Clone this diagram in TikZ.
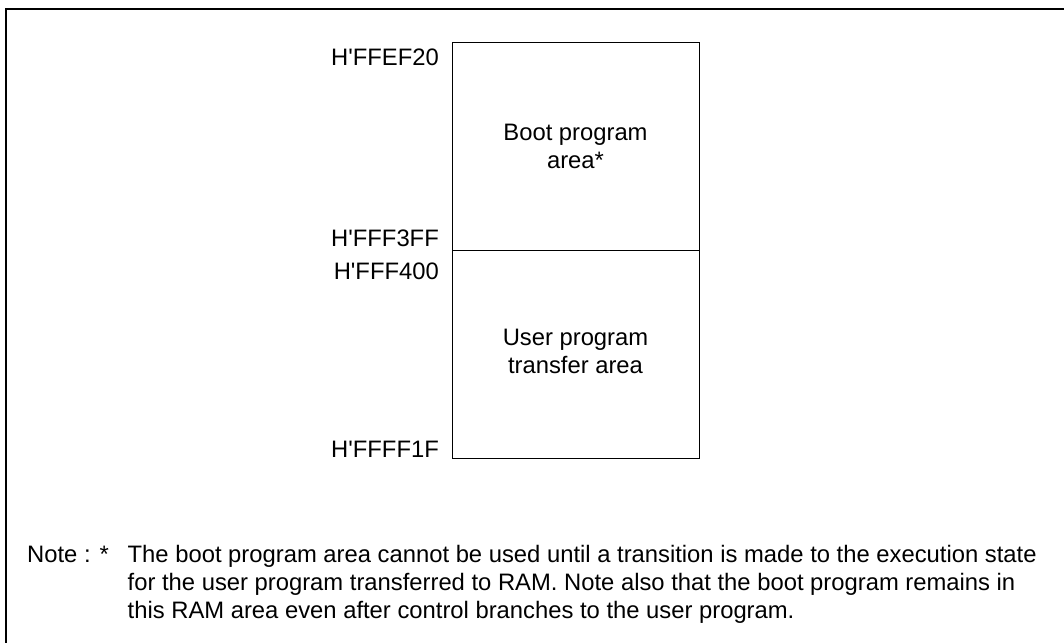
\documentclass[tikz,border=0pt]{standalone}
\usepackage{fontspec}
\setmainfont{Liberation Sans}
\begin{document}
\begin{tikzpicture}[x=1pt,y=-1pt,
  txt/.style={inner sep=0pt,font=\fontsize{23.8}{28}\selectfont},
  area/.style={draw=black,line width=1pt,inner sep=0pt,anchor=north west},
  frameline/.style={draw=black,line width=2.2pt}]
\useasboundingbox (0,0) rectangle (1064,642);
% outer frame (right and bottom edges lie outside the picture)
\coordinate (fbl) at (6,700);
\coordinate (ftl) at (6,9);
\coordinate (ftr) at (1120,9);
\draw[frameline] (fbl) -- (ftl) -- (ftr);
% memory map
\node[area,minimum width=247pt,minimum height=208pt] (boot) at (452,42) {};
\node[area,minimum width=247pt,minimum height=208pt] (user) at (452,250) {};
\node[txt,anchor=base] (b1) at (575.5,140) {Boot program};
\node[txt,anchor=base] (b2) at (575.5,168) {area*};
\node[txt,anchor=base] (u1) at (575.5,345) {User program};
\node[txt,anchor=base] (u2) at (575.5,373) {transfer area};
% addresses
\node[txt,anchor=base east] (a1) at (439,65) {H\textquotesingle FFEF20};
\node[txt,anchor=base east] (a2) at (439,246) {H\textquotesingle FFF3FF};
\node[txt,anchor=base east] (a3) at (439,279.5) {H\textquotesingle FFF400};
\node[txt,anchor=base east] (a4) at (439,457.5) {H\textquotesingle FFFF1F};
% note
\node[txt,anchor=base west] (n0) at (27,562) {Note : *};
\node[txt,anchor=base west] (n1) at (127.5,562) {The boot program area cannot be used until a transition is made to the execution state};
\node[txt,anchor=base west] (n2) at (127.5,590) {for the user program transferred to RAM. Note also that the boot program remains in};
\node[txt,anchor=base west] (n3) at (127.5,618) {this RAM area even after control branches to the user program.};
\end{tikzpicture}
\end{document}
